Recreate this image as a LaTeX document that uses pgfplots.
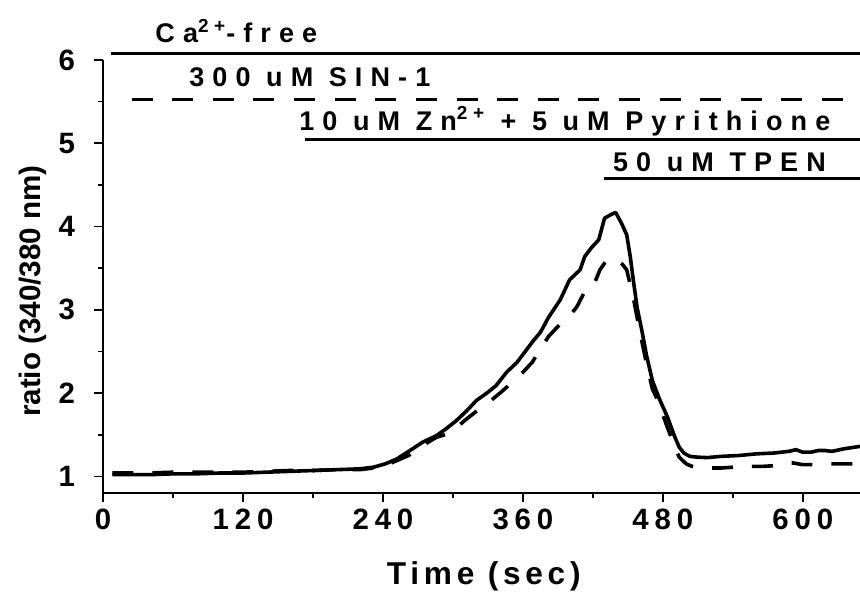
\documentclass[border=0pt]{standalone}
\usepackage{fontspec}
\setmainfont{Liberation Sans}
\newfontfamily\tickfont{Liberation Sans}[LetterSpace=20]
\newfontfamily\annfont{Liberation Sans}[LetterSpace=30]
\newfontfamily\xlabfont{Liberation Sans}[LetterSpace=15]
\usepackage{pgfplots}
\usepackage{pgfplotstable}
\pgfplotsset{compat=1.18}

\pgfplotstableread{
x y
8 1.02
20 1.02
40 1.02
60 1.03
80 1.03
100 1.04
120 1.04
140 1.05
160 1.06
180 1.07
200 1.08
220 1.09
232 1.11
242 1.15
252 1.21
262 1.30
274 1.41
286 1.49
295 1.58
303 1.67
312 1.79
320 1.91
330 2.01
337 2.09
346 2.25
355 2.37
362 2.50
369 2.63
375 2.73
382 2.91
392 3.12
400 3.36
409 3.48
413 3.64
419 3.75
425 3.84
430 4.10
435 4.14
439.5 4.17
444.5 4.04
449 3.90
452 3.64
455 3.32
458 3.02
462 2.75
466 2.45
471 2.15
477 1.93
484 1.71
490 1.48
494 1.35
498 1.28
503 1.24
510 1.23
518 1.225
530 1.24
545 1.25
560 1.27
575 1.28
588 1.30
594 1.32
600 1.29
607 1.29
613 1.31
619 1.31
625 1.30
635 1.33
649 1.36
}\solidtrace

\pgfplotstableread{
x y
8 1.04
20 1.04
40 1.04
60 1.05
80 1.05
100 1.05
120 1.05
140 1.06
160 1.07
180 1.07
200 1.08
220 1.08
232 1.10
242 1.13
252 1.19
262 1.25
274 1.37
286 1.47
298 1.52
310 1.67
320 1.78
330 1.88
342 2.02
350 2.12
360 2.25
368 2.37
375 2.53
382 2.68
392 2.83
400 2.93
406 3.03
413 3.22
420 3.27
426 3.48
430 3.56
434 3.62
440 3.60
445 3.55
449 3.48
452 3.30
455 3.12
458 2.90
462 2.62
466 2.35
471 2.05
476 1.90
483 1.62
489 1.40
494 1.23
500 1.15
505 1.12
515 1.10
530 1.10
550 1.12
566 1.12
578 1.13
586 1.16
592 1.16
600 1.14
610 1.14
620 1.15
638 1.15
649 1.15
}\dashedtrace

\begin{document}
\begin{tikzpicture}
\path[use as bounding box] (-51.5pt,-49.5pt) rectangle (378.5pt,246.5pt);
\begin{axis}[
  at={(0,0)}, anchor=south west,
  scale only axis, width=378.5pt, height=216.5pt,
  xmin=0, xmax=649, ymin=0.8, ymax=6,
  axis lines*=left,
  axis line style={line width=1pt},
  xtick={0,120,240,360,480,600},
  ytick={1,2,3,4,5,6},
  minor x tick num=1, minor y tick num=1,
  tick align=outside,
  major tick length=4.5pt, minor tick length=2.5pt,
  every tick/.style={black, line width=0.8pt},
  /pgf/number format/assume math mode=true,
  tick label style={font={\tickfont\bfseries\fontsize{14.7}{16}\selectfont}},
  yticklabel style={xshift=-6pt},
  xlabel={Time (sec)},
  ylabel={ratio (340/380 nm)},
  xlabel style={font={\xlabfont\bfseries\fontsize{15.8}{18}\selectfont}, at={(axis description cs:0.503,0)}, anchor=base, yshift=-45.5pt},
  ylabel style={font={\bfseries\fontsize{14.8}{17}\selectfont}, at={(axis description cs:-0.0647,0.4665)}, anchor=south},
  clip=false,
]
\addplot[black, line width=1.8pt, line join=round] table[x=x,y=y] {\solidtrace};
\addplot[black, line width=1.8pt, dash pattern=on 10.5pt off 9.5pt] table[x=x,y=y] {\dashedtrace};

\draw[line width=1.5pt] (axis cs:6.6,6.084) -- (axis cs:649,6.084);
\node[anchor=base west, inner sep=0, font={\annfont\bfseries\fontsize{13.5}{15}\selectfont}] at (axis cs:44.6,6.21) {Ca\textsuperscript{2+}-free};
\draw[line width=1.5pt, dash pattern=on 10.5pt off 9.8pt] (axis cs:24.6,5.528) -- (axis cs:649,5.528);
\node[anchor=base west, inner sep=0, font={\annfont\bfseries\fontsize{13.5}{15}\selectfont}] at (axis cs:73.7,5.6875) {300 uM SIN-1};
\draw[line width=1.5pt] (axis cs:173.6,5.047) -- (axis cs:649,5.047);
\node[anchor=base west, inner sep=0, font={\annfont\bfseries\fontsize{13.5}{15}\selectfont}] at (axis cs:168,5.159) {10 uM Zn\textsuperscript{2+} + 5 uM Pyrithione};
\draw[line width=1.5pt] (axis cs:429.4,4.578) -- (axis cs:649,4.578);
\node[anchor=base west, inner sep=0, font={\annfont\bfseries\fontsize{13.5}{15}\selectfont}] at (axis cs:437,4.657) {50 uM TPEN};
\end{axis}
\end{tikzpicture}
\end{document}
